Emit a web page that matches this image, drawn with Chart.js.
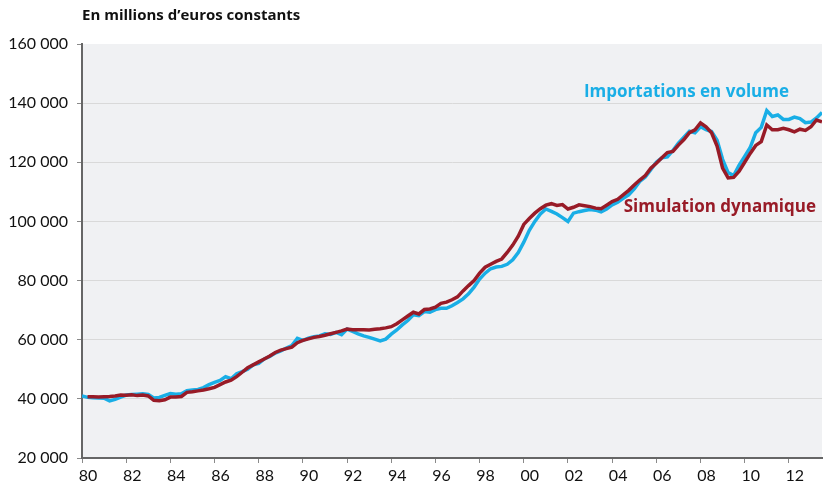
<!DOCTYPE html>
<html>
<head>
<meta charset="utf-8">
<script src="https://cdn.jsdelivr.net/npm/chart.js@4.4.0/dist/chart.umd.min.js"></script>
<style>
  html, body { margin: 0; padding: 0; background: #ffffff; }
  #zone { width: 824px; height: 489px; }
</style>
</head>
<body>
<div id="zone"><canvas id="graphique"></canvas></div>
<script>
// titre et libellés des séries
var titre = 'En millions d\u2019euros constants';
var libelleImport = 'Importations en volume';
var libelleSimul = 'Simulation dynamique';

// trimestres de 1980T1 à 2013T3
var trimestres = [];
for (var a = 1980; a <= 2013; a++) {
    for (var t = 0; t < 4; t++) trimestres.push(a + t / 4);
}
trimestres = trimestres.slice(0, 135);

// Importations en volume (millions d'euros constants)
var importations = [
    41000, 40500, 40400, 40300,   // 1980
    40200, 39300, 39800, 40600,   // 1981
    41300, 41500, 41600, 41700,   // 1982
    41500, 40300, 40500, 41200,   // 1983
    41800, 41600, 41700, 42800,   // 1984
    43000, 43200, 43800, 44800,   // 1985
    45600, 46200, 47500, 46800,   // 1986
    48500, 49200, 50000, 51500,   // 1987
    52000, 53500, 54300, 55500,   // 1988
    56200, 57200, 58000, 60500,   // 1989
    59800, 60500, 61000, 61300,   // 1990
    62000, 61800, 62500, 61700,   // 1991
    63600, 62800, 62000, 61300,   // 1992
    60800, 60200, 59600, 60200,   // 1993
    61900, 63300, 65000, 66500,   // 1994
    68400, 68100, 69500, 69300,   // 1995
    70200, 70600, 70600, 71500,   // 1996
    72600, 73800, 75500, 77800,   // 1997
    80500, 82500, 84000, 84600,   // 1998
    84800, 85500, 87000, 89500,   // 1999
    93000, 97000, 100000, 102500, // 2000
    104200, 103400, 102500, 101300, // 2001
    100000, 102800, 103300, 103700, // 2002
    104000, 103800, 103200, 104200, // 2003
    105600, 106500, 107800, 109000, // 2004
    111000, 113500, 115000, 117500, // 2005
    120000, 121500, 121800, 124000, // 2006
    126500, 128500, 130500, 130000, // 2007
    132000, 131000, 130400, 127500, // 2008
    121000, 116500, 115500, 119000, // 2009
    122000, 125000, 130000, 131800, // 2010
    137500, 135500, 136000, 134500, // 2011
    134500, 135300, 134800, 133400, // 2012
    133600, 135000, 136800          // 2013
];

// Simulation dynamique
var simulation = [
    null, 40700, 40700, 40600,    // 1980
    40700, 40800, 41000, 41300,   // 1981
    41200, 41400, 41100, 41300,   // 1982
    41000, 39500, 39400, 39700,   // 1983
    40600, 40600, 40800, 42200,   // 1984
    42400, 42700, 43000, 43400,   // 1985
    43900, 44800, 45700, 46300,   // 1986
    47500, 49000, 50500, 51500,   // 1987
    52500, 53500, 54500, 55700,   // 1988
    56500, 57000, 57500, 59000,   // 1989
    59800, 60300, 60800, 61100,   // 1990
    61500, 62000, 62500, 63000,   // 1991
    63600, 63400, 63400, 63400,   // 1992
    63300, 63500, 63700, 64000,   // 1993
    64400, 65400, 66700, 68000,   // 1994
    69300, 68700, 70200, 70400,   // 1995
    71000, 72300, 72700, 73500,   // 1996
    74500, 76500, 78300, 80000,   // 1997
    82500, 84500, 85500, 86500,   // 1998
    87300, 89500, 92000, 95000,   // 1999
    99000, 101000, 102800, 104300, // 2000
    105500, 106000, 105400, 105700, // 2001
    104200, 104800, 105600, 105300, // 2002
    105000, 104500, 104300, 105500, // 2003
    106700, 107500, 109000, 110500, // 2004
    112300, 114000, 115500, 118000, // 2005
    119700, 121500, 123300, 123700, // 2006
    125800, 127700, 130000, 131000, // 2007
    133300, 132000, 130000, 125500, // 2008
    118000, 114700, 114900, 117000, // 2009
    120000, 123000, 125700, 127000, // 2010
    132600, 131000, 131000, 131500, // 2011
    131000, 130300, 131200, 130800, // 2012
    132000, 134300, 133700          // 2013
];

var bleu = '#19aee6';
var rouge = '#981b27';
var police = 'Lato, "Open Sans", "DejaVu Sans", sans-serif';
var policeTexte = '"Open Sans", Lato, "DejaVu Sans", sans-serif';

// fond gris de la zone de tracé + textes
var decor = {
    id: 'decor',
    beforeDraw: function (chart) {
        var ctx = chart.ctx, z = chart.chartArea;
        ctx.save();
        ctx.fillStyle = '#f0f1f3';
        ctx.fillRect(z.left, z.top, z.right - z.left, z.bottom - z.top);
        ctx.restore();
    },
    afterDraw: function (chart) {
        var ctx = chart.ctx;
        ctx.save();
        ctx.textBaseline = 'alphabetic';
        ctx.fillStyle = '#111111';
        ctx.textAlign = 'left';
        ctx.font = 'bold 15px ' + policeTexte;
        ctx.fillText(titre, 82, 20);
        ctx.textAlign = 'right';
        ctx.font = 'bold 17px ' + policeTexte;
        ctx.fillStyle = bleu;
        ctx.fillText(libelleImport, 789, 97);
        ctx.fillStyle = rouge;
        ctx.fillText(libelleSimul, 816, 212);
        ctx.restore();
    }
};

var config = {
    type: 'line',
    data: {
        labels: trimestres,
        datasets: [{
            label: libelleSimul,
            data: simulation,
            borderColor: rouge,
            borderWidth: 3.5,
            pointRadius: 0,
            tension: 0,
            fill: false
        }, {
            label: libelleImport,
            data: importations,
            borderColor: bleu,
            borderWidth: 3.5,
            pointRadius: 0,
            tension: 0,
            fill: false
        }]
    },
    options: {
        responsive: true,
        maintainAspectRatio: false,
        animation: false,
        layout: { padding: { top: 44, right: 2, left: 0, bottom: 0 } },
        plugins: {
            legend: { display: false },
            tooltip: { enabled: false }
        },
        scales: {
            x: {
                type: 'linear',
                min: 1980,
                max: 2013.5,
                afterFit: function (s) { s.height = 31; },
                border: { color: '#666666', width: 2 },
                grid: { drawOnChartArea: false, drawTicks: true, tickLength: 5, color: '#8a8a8a' },
                ticks: {
                    stepSize: 2,
                    includeBounds: false,
                    maxRotation: 0,
                    labelOffset: 6,
                    padding: 3,
                    color: '#111111',
                    font: { family: police, size: 16 },
                    callback: function (v) { return String(v % 100).padStart(2, '0'); }
                }
            },
            y: {
                min: 20000,
                max: 160000,
                afterFit: function (s) { s.width = 82; },
                border: { color: '#666666', width: 2 },
                grid: {
                    color: function (c) { return c.tick && c.tick.value === 160000 ? 'rgba(0,0,0,0)' : '#d9d9d9'; },
                    tickColor: '#8a8a8a',
                    tickLength: 5
                },
                ticks: {
                    stepSize: 20000,
                    padding: 9,
                    color: '#111111',
                    font: { family: police, size: 16 },
                    callback: function (v) { return v.toLocaleString('fr-FR').replace(/\s/g, ' '); }
                }
            }
        }
    },
    plugins: [decor]
};

var graphique = new Chart(document.getElementById('graphique'), config);
</script>
</body>
</html>
